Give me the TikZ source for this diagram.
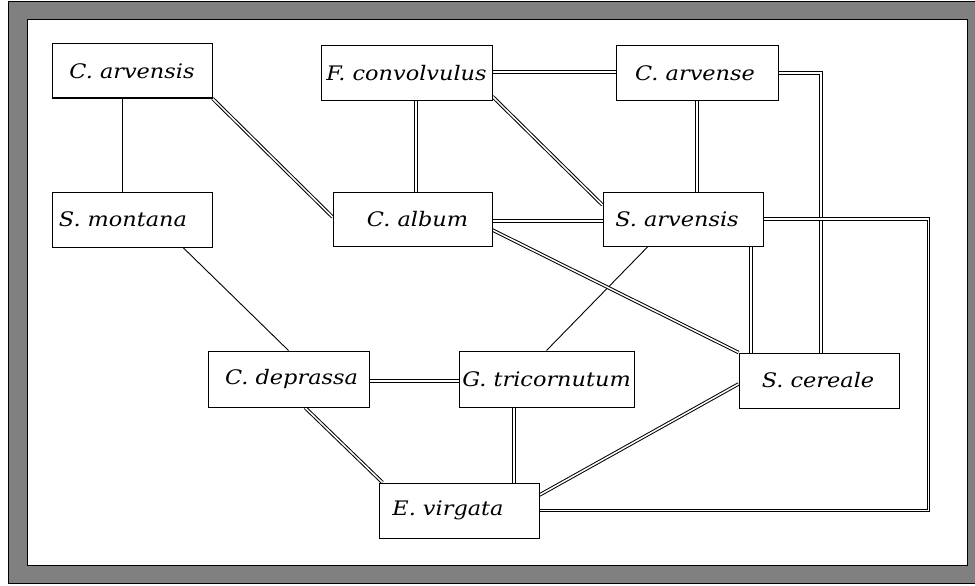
\documentclass[tikz,border=0pt]{standalone}
\usepackage{fontspec}
\setmainfont[FakeStretch=1.12]{DejaVu Serif}
\usetikzlibrary{backgrounds}
\definecolor{framegray}{RGB}{128,128,128}
\begin{document}
\begin{tikzpicture}[x=1pt,y=-1pt,
  box/.style={draw=black, line width=1pt, fill=white, inner sep=0pt,
    font=\fontsize{20}{23}\selectfont\itshape},
  thinlink/.style={line width=0.9pt},
  duallink/.style={double=white, double distance=1.5pt, line width=1pt}]
\useasboundingbox (0,0) rectangle (975,586);

\node[box, minimum width=160pt, minimum height=54pt] (carvensis) at (132,71) {C. arvensis};
\node[box, minimum width=160pt, minimum height=55pt] (smontana) at (132,219.5) {\hspace*{-18pt}S. montana};
\node[box, minimum width=171pt, minimum height=54pt] (fconv) at (406.5,73) {F. convolvulus};
\node[box, minimum width=162pt, minimum height=54pt] (carvense) at (697,73) {\hspace*{-4pt}C. arvense};
\node[box, minimum width=159pt, minimum height=54pt] (calbum) at (412.5,219) {\hspace*{10pt}C. album};
\node[box, minimum width=160pt, minimum height=54pt] (sarvensis) at (683,219) {\hspace*{-12pt}S. arvensis};
\node[box, minimum width=161pt, minimum height=56pt] (cdeprassa) at (288.5,379) {\hspace*{6pt}C. deprassa};
\node[box, minimum width=175pt, minimum height=56pt] (gtric) at (546.5,379) {G. tricornutum};
\node[box, minimum width=160pt, minimum height=55pt] (scereale) at (819,380.5) {\hspace*{-2pt}S. cereale};
\node[box, minimum width=160pt, minimum height=55pt] (evirgata) at (459,510.5) {\hspace*{-22pt}E. virgata};

\begin{scope}[on background layer]
\fill[white] (0,0) rectangle (975,586);
\draw[fill=framegray, line width=1pt] (8,2) rectangle (990,583);
\draw[fill=white, line width=1pt] (27,20) rectangle (967,565);

% single links
\draw[thinlink] ([xshift=-10pt]carvensis.south) -- ([xshift=-10pt]smontana.north);
\draw[thinlink] ([xshift=51pt]smontana.south) -- (cdeprassa.north);
\draw[thinlink] ([xshift=-35pt]sarvensis.south) -- (gtric.north);

% double links
\draw[duallink] (carvensis.south east) -- ([yshift=2pt]calbum.west);
\draw[duallink] ([xshift=9.5pt]fconv.south) -- ([xshift=3.5pt]calbum.north);
\draw[duallink] ([yshift=1pt]fconv.east) -- ([yshift=1pt]carvense.west);
\draw[duallink] ([yshift=4pt]fconv.south east) -- ([yshift=14pt]sarvensis.west);
\draw[duallink] (carvense.south) -- ([xshift=14pt]sarvensis.north);
\draw[duallink] (carvense.east) -| ([xshift=2pt]scereale.north);
\draw[duallink] ([yshift=-2pt]calbum.east) -- ([yshift=-2pt]sarvensis.west);
\draw[duallink] ([yshift=-11pt]calbum.east) -- (scereale.north west);
\draw[duallink] ([xshift=68pt]sarvensis.south) -- ([xshift=-68pt]scereale.north);
\draw[duallink] (sarvensis.east) -- ([xshift=165pt]sarvensis.east) |- (evirgata.east);
\draw[duallink] ([yshift=-2pt]cdeprassa.east) -- ([yshift=-2pt]gtric.west);
\draw[duallink] ([xshift=16.5pt]cdeprassa.south) -- ([xshift=4pt]evirgata.north west);
\draw[duallink] ([xshift=-32.5pt]gtric.south) -- ([xshift=55pt]evirgata.north);
\draw[duallink] ([yshift=-3.5pt]scereale.west) -- ([yshift=15.5pt]evirgata.east);
\end{scope}
\end{tikzpicture}
\end{document}
